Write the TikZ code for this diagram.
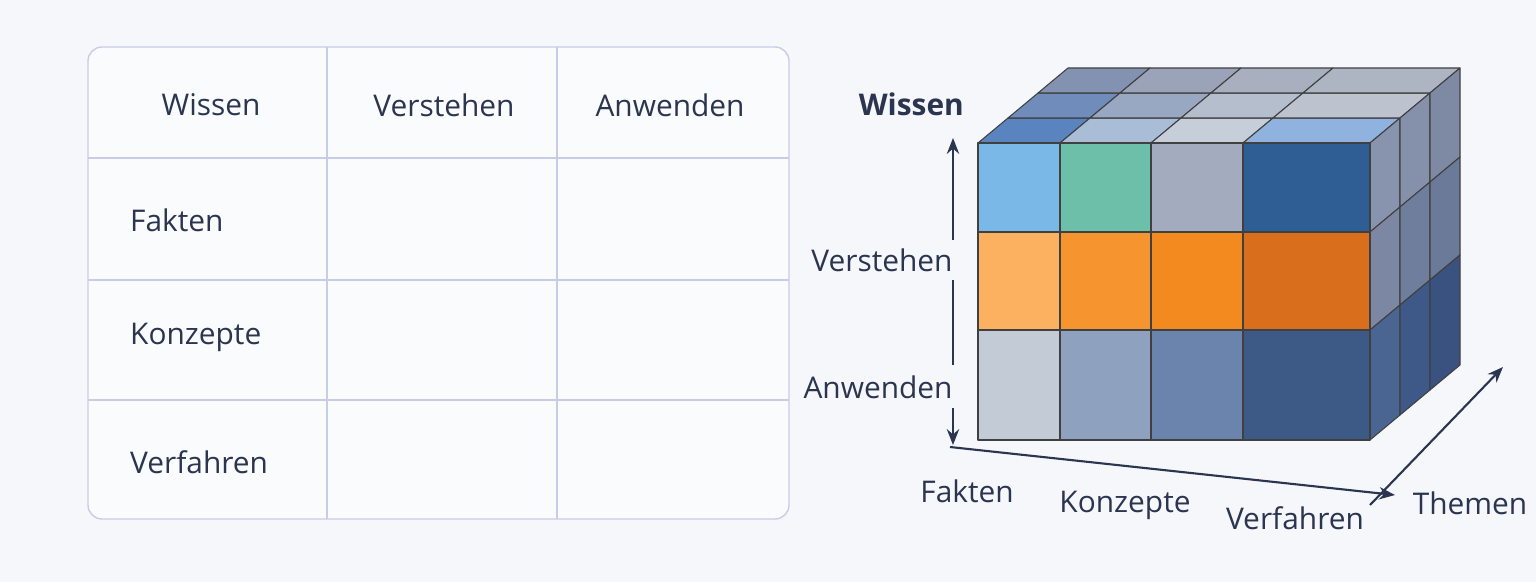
\documentclass[tikz,border=0pt]{standalone}
\usepackage{fontspec}
\setmainfont{Open Sans}
\usetikzlibrary{arrows.meta}
\definecolor{bg}{HTML}{F6F7FB}
\definecolor{ink}{HTML}{2B3550}
\definecolor{grid}{HTML}{C9CCE6}
\tikzset{lab/.style={text=ink,font=\fontsize{17}{20}\selectfont},
 blab/.style={lab,font=\fontsize{17}{20}\selectfont\bfseries},
 cubeedge/.style={draw=black!75,line width=0.6pt,line join=round},
 ax/.style={draw=ink,line width=1.2pt,-{Stealth[length=9pt,width=7pt]}}}
\begin{document}
\begin{tikzpicture}[x=0.02cm,y=-0.02cm]
\fill[bg] (0,0) rectangle (1536,582);
\useasboundingbox (0,0) rectangle (1536,582);
% table
\fill[white!50!bg,rounded corners=8pt] (88,47) rectangle (789,519);
\draw[grid,line width=0.8pt,rounded corners=8pt] (88,47) rectangle (789,519);
\foreach \x in {327,557} \draw[grid,line width=0.8pt] (\x,47) -- (\x,519);
\foreach \y in {158,280,400} \draw[grid,line width=0.8pt] (88,\y) -- (789,\y);
\node[lab] (h1) at (211,105) {Wissen};
\node[lab] (h2) at (444,105) {Verstehen};
\node[lab] (h3) at (670,105) {Anwenden};
\node[lab,anchor=west] (r1) at (124,220) {Fakten};
\node[lab,anchor=west] (r2) at (124,337) {Konzepte};
\node[lab,anchor=west] (r3) at (124,462) {Verfahren};
% cube: top faces
\def\dx{30}\def\dy{-25}
\foreach \xa/\xb/\ca/\cb/\cc in {978/1060/5A84C0/6F8CBA/8292B0,1060/1151/A9BED6/98A8C2/9AA3B8,1151/1243/C6CEDA/B4BECD/A8B0C0,1243/1370/8FB2DE/BCC3CF/ADB5C3}{
 \foreach \j/\c in {0/\ca,1/\cb,2/\cc}{
  \definecolor{tc}{HTML}{\c}
  \filldraw[fill=tc,cubeedge] (\xa+\j*\dx,143+\j*\dy) -- (\xb+\j*\dx,143+\j*\dy) -- (\xb+\j*\dx+\dx,143+\j*\dy+\dy) -- (\xa+\j*\dx+\dx,143+\j*\dy+\dy) -- cycle;
 }}
% side faces
\foreach \ya/\yb/\ca/\cb/\cc in {143/232/8893AD/8590AA/7E89A3,232/330/7C88A3/6F7E9C/6A7A98,330/440/4A6592/3E5888/3A5280}{
 \foreach \j/\c in {0/\ca,1/\cb,2/\cc}{
  \definecolor{tc}{HTML}{\c}
  \filldraw[fill=tc,cubeedge] (1370+\j*\dx,\ya+\j*\dy) -- (1370+\j*\dx+\dx,\ya+\j*\dy+\dy) -- (1370+\j*\dx+\dx,\yb+\j*\dy+\dy) -- (1370+\j*\dx,\yb+\j*\dy) -- cycle;
 }}
% front faces
\foreach \ya/\yb/\ca/\cb/\cc/\cd in {143/232/7AB8E8/6DBFA9/A3ABBF/2F5E94,232/330/FBB160/F6952F/F28A20/D96E1C,330/440/C3CBD6/8EA2C0/6A84AD/3D5A87}{
 \foreach \xa/\xb/\c in {978/1060/\ca,1060/1151/\cb,1151/1243/\cc,1243/1370/\cd}{
  \definecolor{tc}{HTML}{\c}
  \filldraw[fill=tc,cubeedge] (\xa,\ya) rectangle (\xb,\yb);
 }}
% labels & axes
\node[blab,anchor=east] (w) at (970,104) {Wissen};
\node[lab] (v) at (882,260) {Verstehen};
\node[lab] (a) at (878,387) {Anwenden};
\coordinate (top) at (953,138);
\coordinate (bot) at (953,445);
\draw[ax] (953,240) -- (top);
\draw[ax,-] (953,280) -- (953,365);
\draw[ax] (953,408) -- (bot);
\coordinate (b0) at (950,447);
\coordinate (b1) at (1395,495);
\draw[ax] (b0) -- (b1);
\coordinate (d0) at (1370,505);
\coordinate (d1) at (1503,367);
\draw[ax] (d0) -- (d1);
\node[lab] (f) at (967,491) {Fakten};
\node[lab] (k) at (1125,505) {Konzepte};
\node[lab] (vf) at (1295,518) {Verfahren};
\node[lab] (t) at (1470,503) {Themen};
\end{tikzpicture}
\end{document}
